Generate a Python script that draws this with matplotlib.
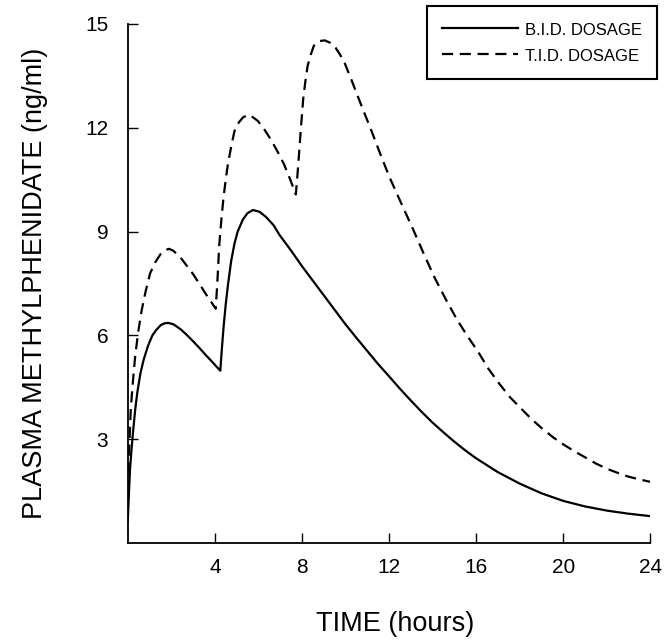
import matplotlib
matplotlib.use("Agg")
import matplotlib.pyplot as plt

plt.rcParams['font.family'] = ['Liberation Sans', 'DejaVu Sans']

# BID dosage (solid)
bid_t = [0.0, 0.05, 0.1, 0.17, 0.24, 0.34, 0.44, 0.58, 0.73, 0.93, 1.13, 1.3, 1.52, 1.7, 1.86,
         2.1, 2.42, 2.7, 3.0, 3.3, 3.6, 3.9, 4.1, 4.25,
         4.32, 4.4, 4.5, 4.6, 4.75, 4.9, 5.05, 5.29, 5.5, 5.75, 6.05, 6.35, 6.7, 6.97,
         7.5, 8.0, 8.5, 9.0, 9.5, 10.0, 10.5, 11.0, 11.5, 12.0,
         12.5, 13.0, 13.5, 14.0, 14.5, 15.0, 15.5, 16.0, 17.0, 18.0, 19.0, 20.0,
         21.0, 22.0, 23.0, 24.0]
bid_v = [0.65, 1.4, 2.1, 2.7, 3.2, 3.85, 4.36, 4.9, 5.3, 5.7, 6.0, 6.15, 6.3, 6.35, 6.36,
         6.32, 6.18, 6.02, 5.83, 5.63, 5.42, 5.22, 5.08, 4.98,
         5.6, 6.24, 6.9, 7.45, 8.15, 8.65, 9.0, 9.35, 9.53, 9.62, 9.57, 9.42, 9.18, 8.9,
         8.45, 8.0, 7.58, 7.16, 6.74, 6.32, 5.93, 5.55, 5.17, 4.82,
         4.46, 4.12, 3.79, 3.48, 3.2, 2.93, 2.68, 2.45, 2.05, 1.72, 1.44, 1.22,
         1.06, 0.94, 0.85, 0.78]

# TID dosage (dashed)
tid_t = [0.0, 0.07, 0.14, 0.24, 0.34, 0.48, 0.63, 0.83, 1.03, 1.27, 1.52, 1.7, 1.9,
         2.1, 2.42, 2.7, 3.0, 3.3, 3.6, 3.85, 4.04,
         4.12, 4.2, 4.3, 4.4, 4.5, 4.6, 4.75, 4.9, 5.1, 5.3, 5.54, 5.75, 5.98,
         6.27, 6.57, 6.87, 7.17, 7.45, 7.72,
         7.79, 7.86, 7.96, 8.06, 8.16, 8.26, 8.4, 8.55, 8.8, 9.05, 9.3, 9.54, 9.74,
         9.94, 10.23, 10.53, 10.83, 11.13, 11.55, 12.0, 12.5, 13.1, 13.6, 14.1,
         14.6, 15.1, 15.6, 16.08, 16.55, 17.07, 17.55, 18.06, 18.55, 19.05,
         19.55, 20.06, 20.55, 21.03, 21.5, 22.0, 22.5, 23.0, 23.5, 24.0]
tid_v = [1.5, 2.8, 3.9, 4.7, 5.4, 6.1, 6.7, 7.3, 7.8, 8.12, 8.36, 8.46, 8.5,
         8.44, 8.25, 8.02, 7.77, 7.48, 7.18, 6.95, 6.77,
         7.6, 8.6, 9.35, 10.0, 10.5, 10.95, 11.45, 11.9, 12.15, 12.3, 12.37, 12.3, 12.19,
         11.95, 11.66, 11.32, 10.95, 10.52, 10.07,
         10.6, 11.19, 12.05, 12.84, 13.35, 13.78, 14.1, 14.37, 14.5, 14.52, 14.45, 14.31, 14.12,
         13.9, 13.45, 12.96, 12.48, 12.01, 11.32, 10.6, 9.9, 9.07, 8.35, 7.66,
         7.05, 6.48, 5.98, 5.54, 5.05, 4.6, 4.22, 3.89, 3.58, 3.3,
         3.05, 2.83, 2.64, 2.47, 2.3, 2.15, 2.03, 1.92, 1.84, 1.77]

series_labels = ["B.I.D. DOSAGE", "T.I.D. DOSAGE"]
xticks = [4, 8, 12, 16, 20, 24]
yticks = [3, 6, 9, 12, 15]

fig = plt.figure(figsize=(6.69, 6.42), dpi=100)
ax = fig.add_axes([0.191, 0.154, 0.781, 0.809])

ax.plot(bid_t, bid_v, color='black', lw=1.6, solid_joinstyle='round',
        label=series_labels[0])
ax.plot(tid_t, tid_v, color='black', lw=1.6, linestyle=(0, (5, 3)),
        label=series_labels[1])

ax.set_xlim(0, 24)
ax.set_ylim(0, 15)
ax.set_xticks(xticks)
ax.set_yticks(yticks)
ax.spines['top'].set_visible(False)
ax.spines['right'].set_visible(False)
for s in ('left', 'bottom'):
    ax.spines[s].set_linewidth(1.3)
ax.tick_params(direction='in', length=7, width=1.0, labelsize=15)
ax.tick_params(axis='y', pad=14)
ax.tick_params(axis='x', pad=11)

ax.set_xlabel("TIME (hours)", fontsize=19.5)
ax.set_ylabel("PLASMA METHYLPHENIDATE (ng/ml)", fontsize=19.5)
ax.xaxis.set_label_coords(0.511, -0.13)
ax.yaxis.set_label_coords(-0.153, 0.5)

leg = fig.legend(loc='upper right', bbox_to_anchor=(657 / 669, 1 - 6 / 642),
                 bbox_transform=fig.transFigure, fontsize=12, frameon=True,
                 fancybox=False, edgecolor='black', framealpha=1,
                 handlelength=4.6, handleheight=1.2, handletextpad=0.4,
                 labelspacing=0.5, borderpad=0.9, borderaxespad=0)
leg.get_frame().set_linewidth(1.5)

fig.savefig("out.png", dpi=100)
